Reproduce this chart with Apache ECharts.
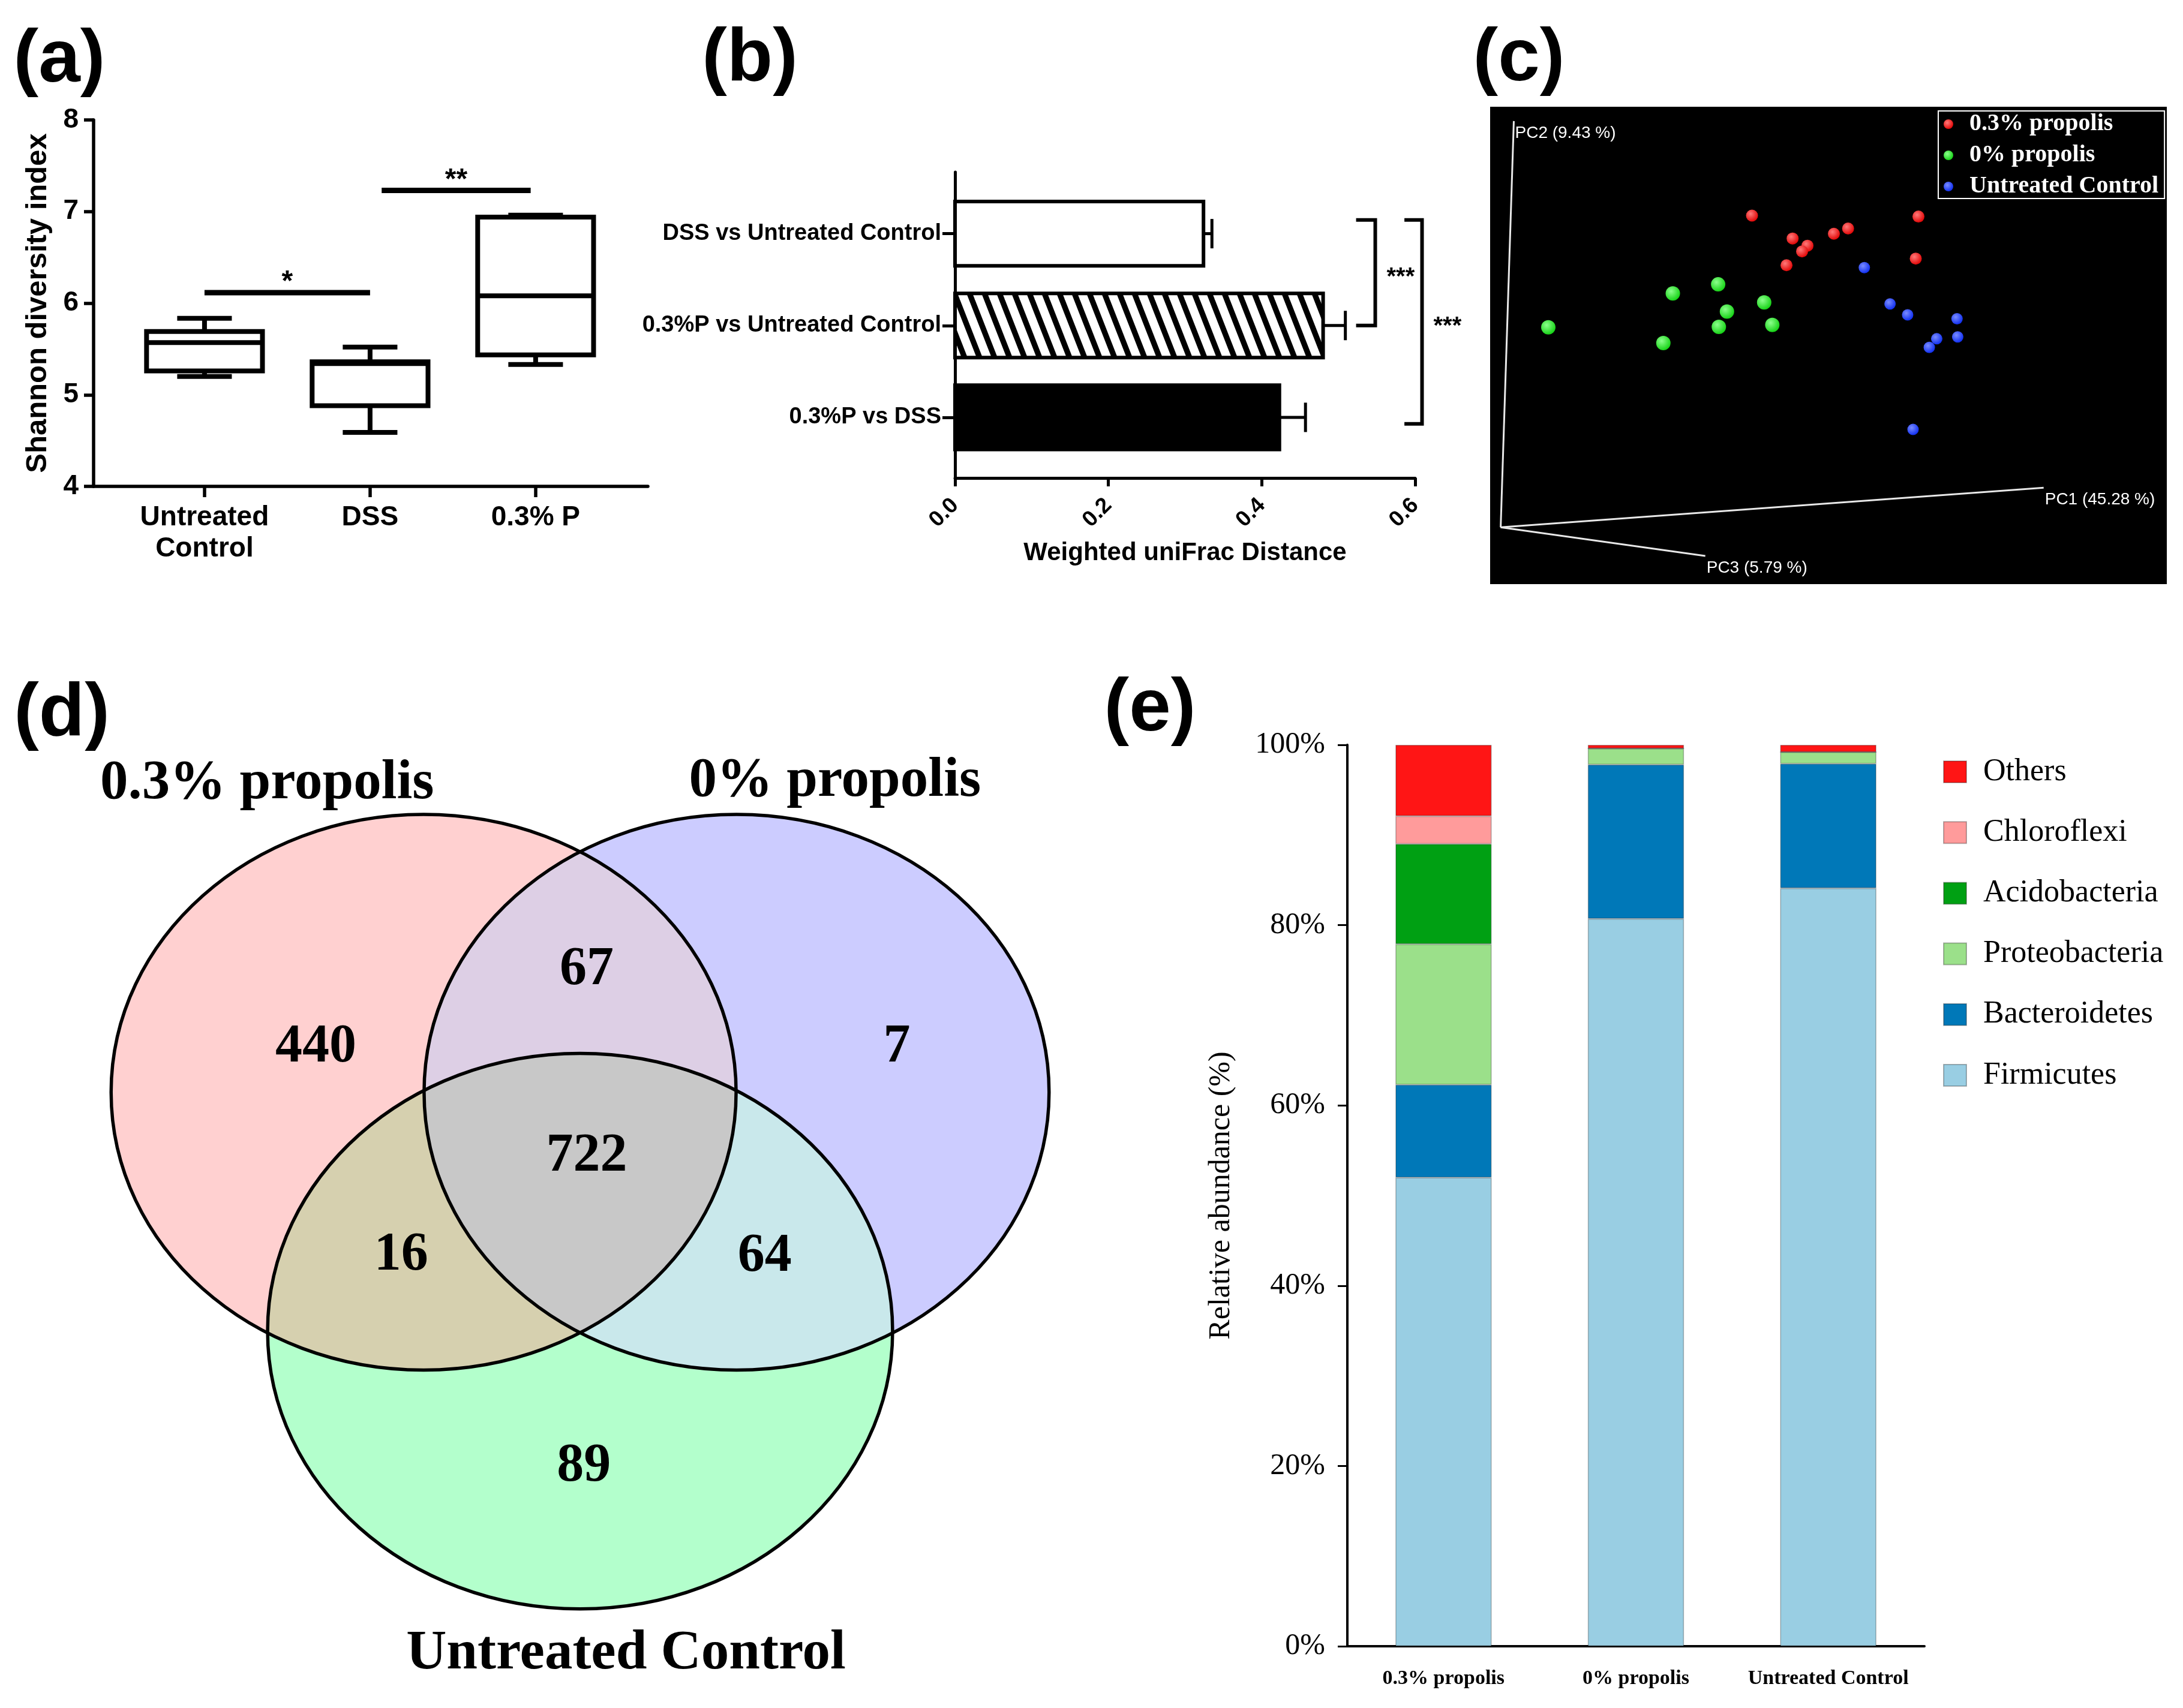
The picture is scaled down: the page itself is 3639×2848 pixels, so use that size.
<!DOCTYPE html>
<html><head><meta charset="utf-8">
<script src="https://cdn.jsdelivr.net/npm/echarts@6/dist/echarts.min.js"></script>
<style>html,body{margin:0;padding:0;background:#fff;} #c{width:3639px;height:2848px;}</style>
</head><body><div id="c"></div>
<script>
// ---------- (a) Shannon diversity ----------
const boxCategories = ['Untreated\nControl', 'DSS', '0.3% P'];
// [min, q1, median, q3, max]
const boxUntreated = [5.20, 5.26, 5.57, 5.69, 5.835];
const boxDSS = [4.59, 4.88, 5.34, 5.36, 5.52];
const boxPropolis = [5.33, 5.435, 6.08, 6.94, 6.96];
const shannonTicks = [4, 5, 6, 7, 8];
const sigAFrom = [0, 1.07];
const sigATo = [1, 1.97];
const sigAY = [6.115, 7.23];
const sigALabel = ['*', '**'];
// ---------- (b) Weighted UniFrac ----------
const distCategories = ['DSS vs Untreated Control', '0.3%P vs Untreated Control', '0.3%P vs DSS'];
const distMean = [0.324, 0.480, 0.423];
const distErr = [0.011, 0.029, 0.034];
const distTicks = [0, 0.2, 0.4, 0.6];
const sigBFrom = [-0.15, -0.15];
const sigBTo = [1.0, 2.07];
const sigBLabel = ['***', '***'];
// ---------- (c) PCoA ----------
const pcoaGroups = ['0.3% propolis', '0% propolis', 'Untreated Control'];
const pcoaRed = [[38.7,77.2],[63.3,77.0],[44.7,72.4],[46.9,70.9],[46.1,69.7],[50.8,73.4],[52.9,74.5],[43.8,66.8],[62.9,68.2]];
const pcoaGreen = [[8.6,53.8],[27.0,60.9],[33.7,62.8],[35.0,57.1],[40.5,59.0],[33.8,53.9],[41.7,54.3],[25.6,50.5]];
const pcoaBlue = [[55.3,66.3],[59.1,58.7],[61.7,56.4],[69.0,55.6],[69.1,51.8],[66.0,51.4],[64.9,49.6],[62.5,32.4]];
const pcoaAxisNames = ['PC1 (45.28 %)', 'PC2 (9.43 %)', 'PC3 (5.79 %)'];
const pcoaAxisEnds = [[81.8, 20.2], [3.5, 97.0], [31.8, 5.9]];
const pcoaOrigin = [1.56, 11.9];
// ---------- (d) Venn ----------
const vennSets = ['0.3% propolis', '0% propolis', 'Untreated Control'];
// regions: A only, B only, C only, AB, AC, BC, ABC
const vennCounts = [440, 7, 89, 67, 16, 64, 722];
// ---------- (e) Relative abundance ----------
const phylumGroups = ['0.3% propolis', '0% propolis', 'Untreated Control'];
const phyla = ['Firmicutes', 'Bacteroidetes', 'Proteobacteria', 'Acidobacteria', 'Chloroflexi', 'Others'];
const firmicutes = [52.0, 80.7, 84.1];
const bacteroidetes = [10.3, 17.1, 13.8];
const proteobacteria = [15.6, 1.8, 1.3];
const acidobacteria = [11.1, 0, 0];
const chloroflexi = [3.1, 0, 0];
const others = [7.9, 0.4, 0.8];
const abundanceTicks = [0, 20, 40, 60, 80, 100];

// ---------- layout / style (not data) ----------
const SANS = 'Liberation Sans, Arial, sans-serif';
const SERIF = 'Liberation Serif, Times New Roman, serif';
const bracketArmX = [[0.523, 0.548], [0.586, 0.609]];
const vennCenters = [[33.3, 62.65], [66.7, 62.65], [50, 37.15]];
const vennRadius = [33.35, 29.65];
const vennCountPos = [[21.8,67.4],[83.8,67.4],[50.4,22.7],[50.7,75.7],[30.9,45.2],[69.7,45.1],[50.7,55.8]];
const vennSetLabelPos = [[16.6,95.6],[77.2,95.8],[54.9,2.7]];
const vennColors = ['#FFD0D0', '#CCCCFF', '#B3FFCC', '#DDCFE5', '#D6D0AF', '#C9E8EB', '#C8C8C8'];
const phylaColors = ['#99CEE3', '#0078B8', '#9BE08A', '#00A013', '#FF9B9B', '#FF1515'];

function makeHatch() {
  const c = document.createElement('canvas');
  c.width = 25; c.height = 64;
  const ctx = c.getContext('2d');
  ctx.fillStyle = '#fff'; ctx.fillRect(0, 0, 25, 64);
  ctx.fillStyle = '#000';
  for (let k = -2; k <= 2; k++) {
    ctx.beginPath();
    ctx.moveTo(k * 25 - 5, 0); ctx.lineTo(k * 25 + 5, 0);
    ctx.lineTo(k * 25 + 30, 64); ctx.lineTo(k * 25 + 20, 64);
    ctx.closePath(); ctx.fill();
  }
  return c;
}
const hatch = makeHatch();

function sphere(c0, c1) {
  return { type: 'radial', x: 0.38, y: 0.35, r: 0.7,
    colorStops: [{ offset: 0, color: c0 }, { offset: 1, color: c1 }] };
}

const boxStats = [boxUntreated, boxDSS, boxPropolis];
const chart = echarts.init(document.getElementById('c'), null, { renderer: 'canvas' });

const option = {
  backgroundColor: '#fff',
  animation: false,
  textStyle: { fontFamily: SANS },
  graphic: [
    { type: 'text', x: 99, y: 102, style: { text: '(a)', font: 'bold 125px ' + SANS, fill: '#000', align: 'center', verticalAlign: 'middle' } },
    { type: 'text', x: 1250, y: 100, style: { text: '(b)', font: 'bold 125px ' + SANS, fill: '#000', align: 'center', verticalAlign: 'middle' } },
    { type: 'text', x: 2532, y: 100, style: { text: '(c)', font: 'bold 125px ' + SANS, fill: '#000', align: 'center', verticalAlign: 'middle' } },
    { type: 'text', x: 103, y: 1192, style: { text: '(d)', font: 'bold 125px ' + SANS, fill: '#000', align: 'center', verticalAlign: 'middle' } },
    { type: 'text', x: 1917, y: 1184, style: { text: '(e)', font: 'bold 125px ' + SANS, fill: '#000', align: 'center', verticalAlign: 'middle' } }
  ],
  legend: [
    {
      data: pcoaGroups, orient: 'vertical', left: 3231, top: 185, selectedMode: false,
      backgroundColor: '#000', borderColor: '#fff', borderWidth: 2, borderRadius: 0,
      padding: [2, 10, 0, 9], itemGap: 12, itemWidth: 16, itemHeight: 16, icon: 'circle',
      textStyle: { color: '#fff', fontFamily: SERIF, fontWeight: 'bold', fontSize: 40, lineHeight: 40, padding: [0, 0, 0, 22] }
    },
    {
      data: phyla.slice().reverse(), orient: 'vertical', left: 3234, top: 1256, selectedMode: false,
      itemGap: 49.2, itemWidth: 38, itemHeight: 36, icon: 'rect',
      textStyle: { color: '#000', fontFamily: SERIF, fontSize: 52, lineHeight: 40, padding: [0, 0, 0, 23] }
    }
  ],
  grid: [
    { left: 156, top: 200, width: 924, height: 611 },
    { left: 1592, top: 287, width: 767, height: 510 },
    { left: 2484, top: 178, width: 1128, height: 796, show: true, backgroundColor: '#000', borderWidth: 0 },
    { left: 186, top: 1230, width: 1562, height: 1570 },
    { left: 2246, top: 1242, width: 962, height: 1503 }
  ],
  xAxis: [
    { gridIndex: 0, type: 'value', min: -0.67, max: 2.678, splitLine: { show: false },
      axisLine: { show: true, onZero: false, lineStyle: { color: '#000', width: 5.5 } },
      axisTick: { show: true, customValues: [0, 1, 2], length: 18, lineStyle: { color: '#000', width: 5.5 } },
      axisLabel: { customValues: [0, 1, 2], formatter: v => boxCategories[Math.round(v)], color: '#000',
        fontFamily: SANS, fontWeight: 'bold', fontSize: 46, lineHeight: 52, margin: 26 } },
    { gridIndex: 1, type: 'value', min: 0, max: 0.6, interval: 0.2, splitLine: { show: false },
      axisLine: { show: true, onZero: false, lineStyle: { color: '#000', width: 5 } },
      axisTick: { show: true, length: 14, lineStyle: { color: '#000', width: 5 } },
      axisLabel: { customValues: distTicks, formatter: v => v.toFixed(1), rotate: 45, color: '#000',
        fontFamily: SANS, fontWeight: 'bold', fontSize: 37, margin: 40 },
      name: 'Weighted uniFrac Distance', nameLocation: 'middle', nameGap: 104,
      nameTextStyle: { color: '#000', fontFamily: SANS, fontWeight: 'bold', fontSize: 42 } },
    { gridIndex: 2, type: 'value', min: 0, max: 100, show: false },
    { gridIndex: 3, type: 'value', min: 0, max: 100, show: false },
    { gridIndex: 4, type: 'category', data: phylumGroups,
      axisLine: { show: true, lineStyle: { color: '#000', width: 4 } },
      axisTick: { show: false },
      axisLabel: { interval: 0, color: '#000', fontFamily: SERIF, fontWeight: 'bold', fontSize: 34, margin: 37 } }
  ],
  yAxis: [
    { gridIndex: 0, type: 'value', min: 4, max: 8, interval: 1, splitLine: { show: false },
      axisLine: { show: true, onZero: false, lineStyle: { color: '#000', width: 5.5 } },
      axisTick: { show: true, length: 16, lineStyle: { color: '#000', width: 5.5 } },
      axisLabel: { customValues: shannonTicks, color: '#000', fontFamily: SANS, fontWeight: 'bold', fontSize: 46, margin: 25 },
      name: 'Shannon diversity index', nameLocation: 'middle', nameGap: 68,
      nameTextStyle: { color: '#000', fontFamily: SANS, fontWeight: 'bold', fontSize: 49 } },
    { gridIndex: 1, type: 'value', min: -0.67, max: 2.66, inverse: true, splitLine: { show: false },
      axisLine: { show: true, onZero: false, lineStyle: { color: '#000', width: 5 } },
      axisTick: { show: true, customValues: [0, 1, 2], length: 21, lineStyle: { color: '#000', width: 5 } },
      axisLabel: { customValues: [0, 1, 2], formatter: v => distCategories[Math.round(v)], color: '#000',
        fontFamily: SANS, fontWeight: 'bold', fontSize: 38, margin: 23 } },
    { gridIndex: 2, type: 'value', min: 0, max: 100, show: false },
    { gridIndex: 3, type: 'value', min: 0, max: 100.5, show: false },
    { gridIndex: 4, type: 'value', min: 0, max: 100, interval: 20, splitLine: { show: false },
      axisLine: { show: true, onZero: false, lineStyle: { color: '#000', width: 4 } },
      axisTick: { show: true, length: 16, lineStyle: { color: '#000', width: 3 } },
      axisLabel: { customValues: abundanceTicks, formatter: '{value}%', color: '#000', fontFamily: SERIF, fontSize: 50, margin: 37 },
      name: 'Relative abundance (%)', nameLocation: 'middle', nameGap: 185,
      nameTextStyle: { color: '#000', fontFamily: SERIF, fontSize: 50 } }
  ],
  series: []
};

// (a) box plots
option.series.push({
  type: 'custom', name: 'box', xAxisIndex: 0, yAxisIndex: 0, clip: false,
  data: boxStats.map((s, i) => [i].concat(s)),
  encode: { x: 0, y: [1, 2, 3, 4, 5] },
  renderItem: (params, api) => {
    const i = api.value(0);
    const mn = api.value(1), q1 = api.value(2), md = api.value(3), q3 = api.value(4), mx = api.value(5);
    const cx = api.coord([i, md])[0];
    const y = v => api.coord([i, v])[1];
    const hw = api.size([0.7, 0])[0] / 2;
    const cw = api.size([0.33, 0])[0] / 2;
    const st = { stroke: '#000', lineWidth: 8 };
    return { type: 'group', children: [
      { type: 'line', shape: { x1: cx, y1: y(q3), x2: cx, y2: y(mx) }, style: st },
      { type: 'line', shape: { x1: cx - cw, y1: y(mx), x2: cx + cw, y2: y(mx) }, style: st },
      { type: 'line', shape: { x1: cx, y1: y(q1), x2: cx, y2: y(mn) }, style: st },
      { type: 'line', shape: { x1: cx - cw, y1: y(mn), x2: cx + cw, y2: y(mn) }, style: st },
      { type: 'rect', shape: { x: cx - hw, y: y(q3), width: 2 * hw, height: y(q1) - y(q3) }, style: { fill: '#fff', stroke: '#000', lineWidth: 8 } },
      { type: 'line', shape: { x1: cx - hw, y1: y(md), x2: cx + hw, y2: y(md) }, style: st }
    ] };
  }
});
// (a) significance
option.series.push({
  type: 'custom', name: 'sigA', xAxisIndex: 0, yAxisIndex: 0, clip: false,
  data: sigAFrom.map((f, i) => [f, sigATo[i], sigAY[i], i]),
  renderItem: (params, api) => {
    const p0 = api.coord([api.value(0), api.value(2)]);
    const p1 = api.coord([api.value(1), api.value(2)]);
    return { type: 'group', children: [
      { type: 'line', shape: { x1: p0[0], y1: p0[1], x2: p1[0], y2: p1[1] }, style: { stroke: '#000', lineWidth: 9 } },
      { type: 'text', x: (p0[0] + p1[0]) / 2, y: p0[1] - 17, style: { text: sigALabel[api.value(3)], font: 'bold 48px ' + SANS, fill: '#000', align: 'center', verticalAlign: 'middle' } }
    ] };
  }
});
// (b) bars
const barStyles = [
  { fill: '#fff', stroke: '#000', lineWidth: 6 },
  { fill: { image: hatch, repeat: 'repeat' }, stroke: '#000', lineWidth: 6 },
  { fill: '#000', stroke: '#000', lineWidth: 6 }
];
option.series.push({
  type: 'custom', name: 'dist', xAxisIndex: 1, yAxisIndex: 1, clip: false,
  data: distMean.map((m, i) => [m, i, distErr[i]]),
  encode: { x: 0, y: 1 },
  renderItem: (params, api) => {
    const m = api.value(0), i = api.value(1), e = api.value(2);
    const p0 = api.coord([0, i]);
    const p1 = api.coord([m, i]);
    const pe = api.coord([m + e, i]);
    const h = Math.abs(api.size([0, 0.7])[1]);
    const ch = Math.abs(api.size([0, 0.16])[1]);
    return { type: 'group', children: [
      { type: 'line', shape: { x1: p1[0], y1: p1[1], x2: pe[0], y2: pe[1] }, style: { stroke: '#000', lineWidth: 5 } },
      { type: 'line', shape: { x1: pe[0], y1: pe[1] - ch, x2: pe[0], y2: pe[1] + ch }, style: { stroke: '#000', lineWidth: 5 } },
      { type: 'rect', shape: { x: p0[0], y: p0[1] - h / 2, width: p1[0] - p0[0], height: h }, style: barStyles[i] }
    ] };
  }
});
// (b) brackets
option.series.push({
  type: 'custom', name: 'sigB', xAxisIndex: 1, yAxisIndex: 1, clip: false,
  data: sigBFrom.map((f, i) => [bracketArmX[i][0], bracketArmX[i][1], f, sigBTo[i], i]),
  renderItem: (params, api) => {
    const a = api.coord([api.value(0), api.value(2)]);
    const b = api.coord([api.value(1), api.value(2)]);
    const c = api.coord([api.value(1), api.value(3)]);
    const d = api.coord([api.value(0), api.value(3)]);
    return { type: 'group', children: [
      { type: 'polyline', shape: { points: [a, b, c, d] }, style: { stroke: '#000', lineWidth: 6, fill: null } },
      { type: 'text', x: b[0] + 19, y: (b[1] + c[1]) / 2 + 8, style: { text: sigBLabel[api.value(4)], font: 'bold 40px ' + SANS, fill: '#000', align: 'left', verticalAlign: 'middle' } }
    ] };
  }
});
// (c) PCoA axes
option.series.push({
  type: 'custom', name: 'pcAxes', xAxisIndex: 2, yAxisIndex: 2, clip: false, z: 1,
  data: pcoaAxisEnds.map((e, i) => [e[0], e[1], i]),
  renderItem: (params, api) => {
    const o = api.coord(pcoaOrigin);
    const e = api.coord([api.value(0), api.value(1)]);
    return { type: 'group', children: [
      { type: 'line', shape: { x1: o[0], y1: o[1], x2: e[0], y2: e[1] }, style: { stroke: '#e8e8e8', lineWidth: 3 } },
      { type: 'text', x: e[0] + 2, y: e[1] + 20, style: { text: pcoaAxisNames[api.value(2)], font: '28px ' + SANS, fill: '#fff', align: 'left', verticalAlign: 'middle' } }
    ] };
  }
});
option.series.push(
  { type: 'scatter', name: pcoaGroups[0], xAxisIndex: 2, yAxisIndex: 2, data: pcoaRed, symbolSize: 20, z: 3,
    itemStyle: { color: sphere('#ff7a7a', '#e00000'), opacity: 1 } },
  { type: 'scatter', name: pcoaGroups[1], xAxisIndex: 2, yAxisIndex: 2, data: pcoaGreen, symbolSize: 24, z: 3,
    itemStyle: { color: sphere('#8cff8c', '#10d010'), opacity: 1 } },
  { type: 'scatter', name: pcoaGroups[2], xAxisIndex: 2, yAxisIndex: 2, data: pcoaBlue, symbolSize: 19, z: 3,
    itemStyle: { color: sphere('#7a8cff', '#0a2af0'), opacity: 1 } }
);
// (d) Venn ellipses
option.series.push({
  type: 'custom', name: 'vennShapes', xAxisIndex: 3, yAxisIndex: 3, clip: false, silent: true,
  data: [[0, 0]],
  renderItem: (params, api) => {
    const sz = api.size([vennRadius[0], vennRadius[1]]);
    const rx = Math.abs(sz[0]), ry = Math.abs(sz[1]);
    const E = vennCenters.map(c => { const p = api.coord(c); return { cx: p[0], cy: p[1], rx: rx, ry: ry }; });
    const el = (k, fill, clip) => {
      const o = { type: 'ellipse', shape: Object.assign({}, E[k]), style: { fill: fill, stroke: null } };
      if (clip != null) o.clipPath = { type: 'ellipse', shape: Object.assign({}, E[clip]) };
      return o;
    };
    const children = [
      el(0, vennColors[0]), el(1, vennColors[1]), el(2, vennColors[2]),
      el(1, vennColors[3], 0), el(2, vennColors[4], 0), el(2, vennColors[5], 1),
      { type: 'group', clipPath: { type: 'ellipse', shape: Object.assign({}, E[0]) }, children: [el(2, vennColors[6], 1)] }
    ];
    for (let k = 0; k < 3; k++) {
      children.push({ type: 'ellipse', shape: Object.assign({}, E[k]), style: { fill: null, stroke: '#000', lineWidth: 5.5 } });
    }
    return { type: 'group', children: children };
  }
});
// (d) Venn counts
option.series.push({
  type: 'custom', name: 'vennCounts', xAxisIndex: 3, yAxisIndex: 3, clip: false, z: 5,
  data: vennCounts.map((c, i) => [vennCountPos[i][0], vennCountPos[i][1], c]),
  renderItem: (params, api) => {
    const p = api.coord([api.value(0), api.value(1)]);
    return { type: 'text', x: p[0], y: p[1], style: { text: String(api.value(2)), font: 'bold 90px ' + SERIF, fill: '#000', align: 'center', verticalAlign: 'middle' } };
  }
});
// (d) Venn set labels
option.series.push({
  type: 'custom', name: 'vennSets', xAxisIndex: 3, yAxisIndex: 3, clip: false, z: 5,
  data: vennSets.map((s, i) => [vennSetLabelPos[i][0], vennSetLabelPos[i][1], i]),
  renderItem: (params, api) => {
    const p = api.coord([api.value(0), api.value(1)]);
    return { type: 'text', x: p[0], y: p[1], style: { text: vennSets[api.value(2)], font: 'bold 93px ' + SERIF, fill: '#000', align: 'center', verticalAlign: 'middle' } };
  }
});
// (e) stacked bars
const phylaValues = [firmicutes, bacteroidetes, proteobacteria, acidobacteria, chloroflexi, others];
phyla.forEach((name, k) => {
  option.series.push({
    type: 'bar', name: name, xAxisIndex: 4, yAxisIndex: 4, stack: 'total', barWidth: '50%',
    data: phylaValues[k],
    itemStyle: { color: phylaColors[k], borderColor: 'rgba(0,0,0,0.28)', borderWidth: 1.5 }
  });
});

chart.setOption(option);
</script>
</body></html>
